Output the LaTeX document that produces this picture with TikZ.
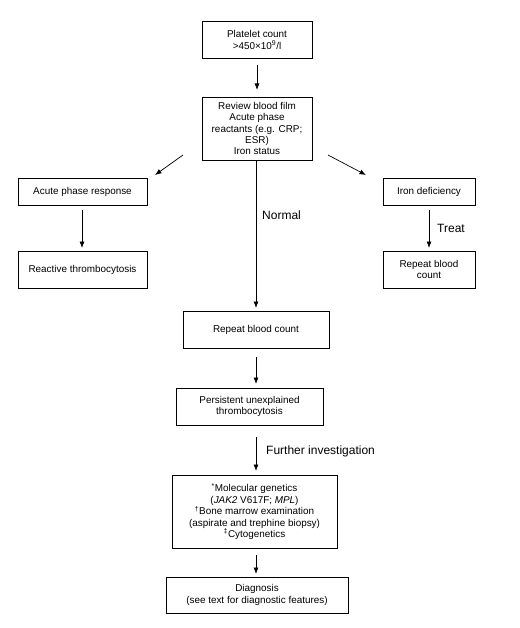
\documentclass[tikz,border=0pt]{standalone}
\usepackage{fontspec}
\setmainfont{Liberation Sans}
\usetikzlibrary{arrows.meta}
\begin{document}
\begin{tikzpicture}[x=1pt,y=-1pt,
  box/.style={draw, line width=0.7pt, rectangle, inner sep=0pt, align=center,
    font=\fontsize{9.9}{11.4}\selectfont},
  arr/.style={line width=0.7pt, -{Latex[length=6.5pt,width=5pt]}},
  lbl/.style={font=\fontsize{12}{14}\selectfont, anchor=west, inner sep=0pt}]
\useasboundingbox (0,0) rectangle (519,628);
\node[box, minimum width=110pt, minimum height=37pt] (pc) at (257,40) {Platelet count\\>450×10\textsuperscript{9}/l};
\node[box, minimum width=110pt, minimum height=63pt] (rv) at (257,128.5) {Review blood film\\Acute phase\\reactants (e.g. CRP;\\ESR)\\Iron status};
\node[box, minimum width=129pt, minimum height=27pt] (ap) at (82.5,191.5) {Acute phase response};
\node[box, minimum width=129pt, minimum height=37pt] (rt) at (82.5,269.5) {Reactive thrombocytosis};
\node[box, minimum width=92pt, minimum height=27pt] (id) at (429,191.5) {Iron deficiency};
\node[box, minimum width=92pt, minimum height=37pt] (rb2) at (429,269.5) {Repeat blood\\count};
\node[box, minimum width=146pt, minimum height=37pt] (rb) at (256,329.5) {Repeat blood count};
\node[box, minimum width=147pt, minimum height=37pt] (pu) at (249.5,406.5) {Persistent unexplained\\thrombocytosis};
\node[box, minimum width=165pt, minimum height=73pt] (mg) at (254.5,511.5) {\textsuperscript{*}Molecular genetics\\(\textit{JAK2} V617F; \textit{MPL})\\\textsuperscript{†}Bone marrow examination\\(aspirate and trephine biopsy)\\\textsuperscript{‡}Cytogenetics};
\node[box, minimum width=182pt, minimum height=36pt] (dg) at (257,595) {Diagnosis\\(see text for diagnostic features)};
\coordinate (a1s) at (257,65);   \coordinate (a1e) at (257,90);
\coordinate (la1) at (183,155);  \coordinate (la2) at (155,175);
\coordinate (ra1) at (328,155);  \coordinate (ra2) at (366,175);
\coordinate (a2s) at (82,210);   \coordinate (a2e) at (82,248);
\coordinate (a3s) at (429,210);  \coordinate (a3e) at (429,248);
\coordinate (a4s) at (256,160);  \coordinate (a4e) at (256,308);
\coordinate (a5s) at (256,357);  \coordinate (a5e) at (256,384);
\coordinate (a6s) at (256,437);  \coordinate (a6e) at (256,471);
\coordinate (a7s) at (256,555);  \coordinate (a7e) at (256,574);
\draw[arr] (a1s) -- (a1e);
\draw[arr] (la1) -- (la2);
\draw[arr] (ra1) -- (ra2);
\draw[arr] (a2s) -- (a2e);
\draw[arr] (a3s) -- (a3e);
\draw[arr] (a4s) -- (a4e);
\draw[arr] (a5s) -- (a5e);
\draw[arr] (a6s) -- (a6e);
\draw[arr] (a7s) -- (a7e);
\node[lbl] (nl) at (262,215) {Normal};
\node[lbl] (tl) at (437,228) {Treat};
\node[lbl] (fi) at (266,451) {Further investigation};
\end{tikzpicture}
\end{document}
